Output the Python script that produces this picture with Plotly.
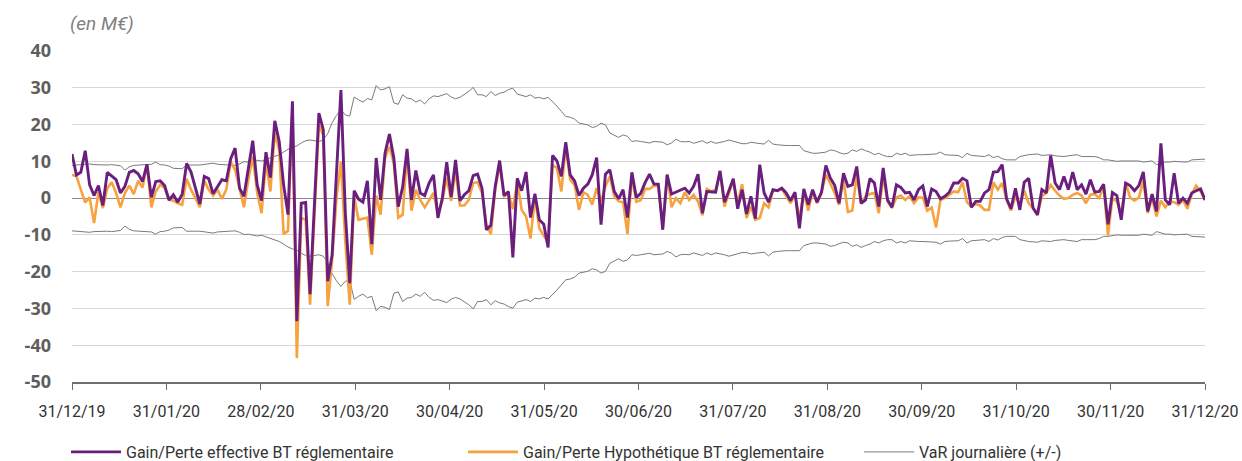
import numpy as np
import plotly.graph_objects as go

# Month-end tick labels (business-day axis, evenly spaced months)
month_labels = ["31/12/19", "31/01/20", "28/02/20", "31/03/20", "30/04/20", "31/05/20",
                "30/06/20", "31/07/20", "31/08/20", "30/09/20", "31/10/20", "30/11/20", "31/12/20"]

# Daily effective P&L (M€)
gain_effectif = [
    12.0, 6.3, 7.0, 12.9, 3.6, 0.7, 3.4, -2.0, 7.0, 6.0,
    5.0, 1.4, 3.2, 7.0, 7.5, 6.6, 4.5, 9.2, 0.2, 4.5,
    4.7, 3.4, -0.5, 0.9, -1.1, 1.1, 9.4, 7.1, 2.7, -1.6,
    5.9, 5.3, 1.2, 3.2, 5.0, 4.7, 10.7, 13.6, 2.7, 0.5,
    8.5, 15.6, 3.6, -0.7, 12.5, 5.6, 21.0, 15.4, 3.6, -4.5,
    26.3, -33.5, -1.4, -1.2, -26.1, -3.0, 23.1, 18.6, -22.6, -15.4,
    8.0, 29.4, -4.0, -23.1, 2.0, -0.3, -1.1, 4.7, -12.5, 10.9,
    -0.5, 12.2, 17.4, 10.9, -2.3, 3.0, 13.4, -0.5, 7.5, 1.4,
    0.7, 4.1, 6.3, -5.4, 0.0, 9.8, 0.3, 10.4, -0.7, 0.9,
    2.0, 6.1, 6.5, 2.7, -8.6, -7.4, 3.2, 10.2, 0.7, 1.8,
    -16.1, 5.4, 2.0, 7.1, -5.3, 1.2, -5.9, -7.1, -13.4, 11.6,
    10.1, 5.9, 15.2, 6.3, 4.7, 0.7, 2.7, 3.8, 6.3, 11.0,
    -7.2, 6.5, 7.7, 1.8, -0.2, 2.3, -5.3, 7.0, 0.2, 1.3,
    4.2, 6.5, 3.8, 3.8, -8.6, 6.3, 1.1, 1.6, 2.0, 2.7,
    1.4, 3.2, 6.5, -4.1, 1.8, 1.6, 1.6, 7.4, -1.1, 2.0,
    5.3, -2.9, 2.3, -4.3, 0.5, -5.6, 9.1, 1.4, -1.1, 2.3,
    2.0, 2.7, 1.4, -0.7, 1.6, -8.2, 2.5, -1.8, 2.3, -1.1,
    1.6, 8.9, 5.5, 3.5, -1.4, 6.8, 3.2, 3.6, 8.6, -1.4,
    -0.5, 5.3, 4.1, -2.3, 8.2, -0.5, -2.5, 3.6, 2.9, 1.4,
    1.6, -0.5, 2.3, 3.3, -2.3, 2.5, 1.8, -0.2, 0.5, 1.6,
    4.1, 4.1, 5.4, 4.7, -2.5, -0.9, -0.9, 1.4, 2.3, 7.1,
    7.2, 9.1, -0.2, -2.9, 2.7, -3.2, 4.3, 5.4, -2.7, -4.5,
    2.3, 1.4, 11.6, 4.1, 2.3, 5.9, 2.3, 7.1, 2.3, 3.6,
    1.1, 5.0, 1.6, 1.8, 3.8, -7.1, 1.5, 0.7, -5.9, 4.1,
    3.4, 2.0, 3.4, 7.1, -3.6, 1.1, -3.6, 14.9, -0.5, -1.8,
    6.8, -1.4, 0.0, -1.4, 1.4, 2.0, 2.5, -0.5,
]

# Daily hypothetical P&L (M€)
gain_hypothetique = [
    6.3, 6.0, 2.3, -1.2, 0.2, -6.8, 1.6, -2.7, 2.7, 4.3,
    1.4, -2.5, 1.4, 3.4, 1.1, 4.7, 2.9, 9.2, -2.5, 1.8,
    3.6, 2.8, -0.4, -0.7, -1.4, -1.8, 5.3, 2.3, 0.0, -2.5,
    4.7, 2.3, 0.7, 2.3, -0.2, 2.3, 9.8, 7.7, 2.7, -2.5,
    5.0, 11.3, 1.5, -4.1, 10.0, 1.8, 17.7, 13.0, -9.8, -8.9,
    24.0, -43.5, -5.4, -5.9, -29.0, -3.0, 20.0, 17.0, -29.4, -17.0,
    0.0, 10.0, -11.8, -29.0, 0.5, -5.9, -5.6, -5.3, -15.4, 0.7,
    -4.5, 10.9, 14.0, 9.5, -5.3, -4.5, 12.0, -3.4, 2.3, -0.5,
    -2.5, -0.5, 1.4, -4.3, -0.7, 5.5, -0.7, 7.5, -2.0, -2.0,
    -0.5, 4.1, 4.3, 1.4, -7.1, -9.8, 2.3, 9.2, 0.5, 1.1,
    -3.0, 4.5, -3.2, -5.0, -11.0, 0.2, -8.2, -10.2, -12.0, 9.0,
    8.2, 1.8, 14.0, 5.0, 3.6, -3.2, 1.6, 0.9, -1.8, 2.7,
    -0.9, 3.2, 5.9, 0.5, -0.9, -1.1, -9.8, 5.9, -1.0, -0.6,
    2.5, 2.5, 3.4, 3.2, -7.5, 6.5, -2.5, 0.0, -1.4, 1.6,
    -0.5, 0.9, -0.9, -4.7, 2.5, 1.8, 2.3, 7.2, -2.3, 1.3,
    4.5, -1.4, 3.8, -5.4, -2.3, -5.9, -5.4, -1.4, -2.5, 2.0,
    2.0, 2.5, 0.7, -1.4, 0.9, -5.5, 1.5, -3.4, 1.8, -1.4,
    1.4, 6.4, 4.0, 1.4, -1.8, 5.0, -3.8, -3.4, 6.3, -1.4,
    0.5, 1.1, 1.4, -4.1, 5.9, -0.9, -2.7, 0.2, 0.7, -0.5,
    0.5, -1.4, 0.2, 0.1, -3.4, -2.6, -8.0, -0.5, 0.0, 0.9,
    1.8, 1.6, 4.3, -1.1, -2.3, -1.6, -2.0, -3.2, -3.2, 4.3,
    2.3, 4.1, -0.5, -3.4, 0.5, -1.8, 2.0, -1.4, -2.7, -4.7,
    0.5, 1.4, 3.6, 2.0, 0.7, -0.2, 0.0, 0.9, 1.4, 0.7,
    -1.4, 0.9, 1.1, 0.0, 3.2, -10.1, 0.0, -0.9, -4.5, 4.3,
    0.2, -0.7, 0.2, 4.7, -4.1, 0.0, -5.0, -0.7, -2.5, -0.9,
    -1.1, -1.8, -0.5, -2.9, 1.1, 3.4, 1.8, -0.5,
]

# Daily VaR (M€), drawn as +/- envelope
var_journaliere = [
    8.9, 9.0, 8.9, 9.1, 9.3, 9.1, 9.0, 8.9, 9.0, 9.1,
    9.0, 8.8, 7.6, 8.5, 8.9, 9.0, 9.1, 9.0, 9.2, 9.8,
    9.1, 9.0, 8.7, 8.1, 8.0, 8.0, 9.0, 9.1, 9.0, 9.0,
    9.1, 9.3, 9.5, 9.2, 9.1, 9.2, 9.0, 8.9, 9.3, 9.9,
    9.8, 10.1, 10.3, 10.1, 10.5, 10.9, 11.3, 11.8, 12.5, 13.3,
    13.8, 14.2, 15.0, 15.6, 15.8, 15.7, 15.4, 15.8, 17.5, 20.5,
    22.5, 24.0, 22.6, 22.3, 27.5, 26.7, 26.1, 27.1, 26.7, 30.6,
    29.4, 29.7, 30.3, 25.9, 25.5, 28.1, 27.2, 27.0, 26.1, 26.7,
    25.6, 27.0, 27.8, 27.6, 28.0, 28.4, 27.5, 27.0, 27.4, 28.1,
    29.0, 30.1, 28.1, 28.1, 27.6, 29.0, 27.9, 28.5, 28.8, 29.5,
    29.9, 28.3, 27.9, 27.6, 28.1, 27.2, 27.4, 27.0, 27.4, 26.3,
    25.0, 23.6, 22.2, 22.0, 21.5, 20.4, 20.1, 19.9, 19.2, 19.5,
    20.4, 19.9, 17.7, 17.2, 16.5, 17.2, 16.8, 15.4, 15.6, 15.4,
    15.2, 15.0, 15.4, 15.3, 15.2, 14.5, 15.0, 16.0, 15.4, 15.3,
    15.4, 14.9, 15.2, 15.6, 14.9, 15.4, 14.9, 15.1, 15.4, 15.8,
    15.4, 15.0, 14.8, 14.8, 15.2, 15.0, 14.8, 14.7, 15.7, 14.7,
    14.5, 14.3, 14.3, 14.3, 14.4, 14.3, 12.9, 12.5, 12.2, 12.2,
    12.3, 12.5, 13.1, 12.9, 12.4, 12.0, 12.2, 13.1, 12.7, 13.4,
    12.9, 12.5, 11.8, 12.2, 11.6, 11.3, 11.3, 12.2, 11.8, 12.2,
    11.6, 11.8, 11.8, 11.8, 11.8, 11.9, 12.0, 12.5, 11.8, 11.7,
    11.6, 11.6, 11.0, 12.2, 11.6, 11.5, 11.4, 11.3, 11.8, 11.0,
    11.4, 10.7, 10.4, 10.5, 10.4, 11.3, 11.6, 11.8, 11.9, 12.0,
    11.6, 11.7, 11.8, 11.5, 11.4, 11.3, 11.5, 11.6, 11.8, 11.3,
    11.3, 11.3, 11.3, 11.0, 10.4, 10.4, 10.2, 10.0, 10.1, 10.1,
    10.0, 10.0, 10.1, 9.8, 9.9, 10.1, 9.1, 9.5, 9.8, 9.8,
    10.0, 9.9, 9.8, 9.8, 10.4, 10.4, 10.4, 10.6,
]

y_ticks = [40, 30, 20, 10, 0, -10, -20, -30, -40, -50]

PURPLE = "#6a1e7d"
ORANGE = "#f6a23f"
GREY = "#7a7a7a"
TEXT_FONT = "Roboto, Arial, sans-serif"

n_days = len(gain_effectif)
x_eff = list(range(len(gain_effectif)))
x_hyp = list(range(len(gain_hypothetique)))
x_var = list(range(len(var_journaliere)))
var_neg = [-v for v in var_journaliere]

fig = go.Figure()
fig.add_trace(go.Scatter(x=x_var, y=var_journaliere, mode="lines",
                         line=dict(color=GREY, width=1),
                         name="VaR journalière (+/-)", legend="legend2"))
fig.add_trace(go.Scatter(x=x_var, y=var_neg, mode="lines",
                         line=dict(color=GREY, width=1),
                         name="VaR journalière (+/-)", legend="legend2", showlegend=False))
fig.add_trace(go.Scatter(x=x_hyp, y=gain_hypothetique, mode="lines",
                         line=dict(color=ORANGE, width=2.6),
                         name="Gain/Perte Hypothétique BT réglementaire", legendrank=2))
fig.add_trace(go.Scatter(x=x_eff, y=gain_effectif, mode="lines",
                         line=dict(color=PURPLE, width=2.9),
                         name="Gain/Perte effective BT réglementaire", legendrank=1))

tick_pos = list(np.linspace(0, n_days - 1, len(month_labels)))

legend_font = dict(family=TEXT_FONT, size=16, color="#333333")

fig.update_layout(
    width=1242, height=461,
    margin=dict(l=72, r=37, t=51, b=79),
    plot_bgcolor="white", paper_bgcolor="white",
    font=dict(family=TEXT_FONT, color="#333333"),
    showlegend=True,
    legend=dict(orientation="h", xref="container", x=66 / 1242, xanchor="left",
                yref="container", y=9 / 461, yanchor="middle",
                font=legend_font, itemwidth=50,
                entrywidth=332, entrywidthmode="pixels", traceorder="normal"),
    legend2=dict(orientation="h", xref="container", x=859 / 1242, xanchor="left",
                 yref="container", y=9 / 461, yanchor="middle",
                 font=legend_font, itemwidth=50),
    annotations=[dict(text="<i>(en M€)</i>", xref="paper", yref="paper", x=0, y=1,
                      xanchor="left", yanchor="bottom", yshift=14, xshift=-4, showarrow=False,
                      font=dict(family=TEXT_FONT, size=19, color="#7f7f7f"))],
)

fig.update_xaxes(range=[0, n_days - 1], tickvals=tick_pos, ticktext=month_labels,
                 ticks="outside", ticklen=6, tickcolor="#6e6e6e", tickwidth=1,
                 showline=True, linecolor="#6e6e6e", linewidth=1.5,
                 showgrid=False, zeroline=False, ticklabelstandoff=8, automargin=False,
                 tickfont=dict(family=TEXT_FONT, size=16, color="#333333"))
fig.update_yaxes(range=[-50, 40], tickvals=y_ticks, ticktext=[str(v) for v in y_ticks],
                 showgrid=True, gridcolor="#d6d6d6", gridwidth=1,
                 zeroline=True, zerolinecolor="#8a8a8a", zerolinewidth=1.3,
                 showline=False, ticks="", ticklabelstandoff=20, automargin=False,
                 tickfont=dict(family="Open Sans, Arial, sans-serif", size=18,
                               color="#5e5e5e", weight="bold"))

fig.write_html("out.html")
